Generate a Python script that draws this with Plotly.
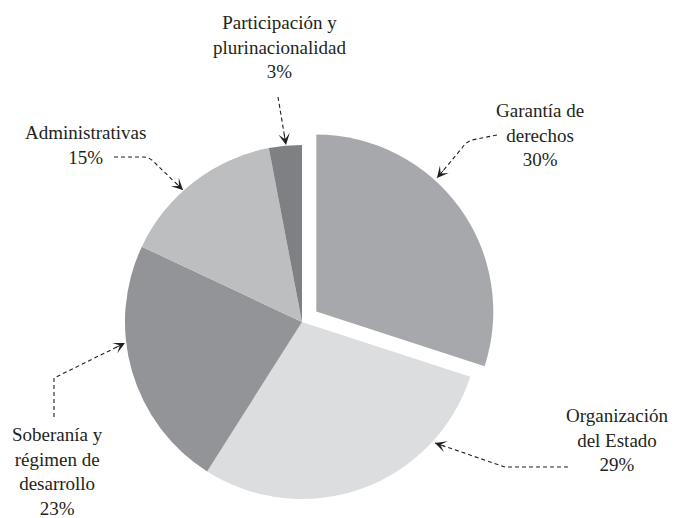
import plotly.graph_objects as go

# Share of content by thematic area
labels = ["Garantía de<br>derechos", "Organización<br>del Estado",
          "Soberanía y<br>régimen de<br>desarrollo", "Administrativas",
          "Participación y<br>plurinacionalidad"]
values = [30, 29, 23, 15, 3]
colors = ["#a7a8ab", "#dcdddf", "#939497", "#bdbec0", "#7f8084"]
pulls = [0.1, 0, 0, 0, 0]

W, H = 673, 518
FONT = "Liberation Serif, Times New Roman, serif"
INK = "#231f20"


def X(px):
    return px / W


def Y(py):
    return 1 - py / H


fig = go.Figure(go.Pie(
    labels=labels, values=values, sort=False, direction="clockwise",
    rotation=0, pull=pulls, textinfo="none", hoverinfo="label+percent",
    marker=dict(colors=colors, line=dict(width=0)),
    domain=dict(x=[0.1594, 0.7380], y=[0.0025, 0.7543]),
    showlegend=False,
))

# label placement (centre of text block) and leader geometry
label_pos = [(540, 135), (617, 440), (57, 471), (85, 145), (279, 47)]
leaders = [
    [("M", 497, 135), ("L", 472, 140), ("Q", 466, 142, 462, 148), ("L", 437, 178)],
    [("M", 568, 467), ("L", 505, 467), ("L", 435, 443)],
    [("M", 54, 417), ("L", 54, 378), ("L", 125, 343)],
    [("M", 114, 157), ("L", 143, 157), ("Q", 150, 157, 155, 163), ("L", 183, 190)],
    [("M", 278, 97), ("L", 286, 145)],
]


def path_str(cmds):
    out = []
    for c in cmds:
        op, pts = c[0], c[1:]
        coords = []
        for i in range(0, len(pts), 2):
            coords.append(f"{X(pts[i]):.5f},{Y(pts[i + 1]):.5f}")
        out.append(op + " " + " ".join(coords))
    return " ".join(out)


shapes = []
annotations = []
for lab, val, (lx, ly), cmds in zip(labels, values, label_pos, leaders):
    annotations.append(dict(
        x=X(lx), y=Y(ly), xref="paper", yref="paper",
        text=f"{lab}<br>{val}%", showarrow=False,
        xanchor="center", yanchor="middle", align="center",
        font=dict(family=FONT, size=19, color=INK),
    ))
    shapes.append(dict(
        type="path", xref="paper", yref="paper", path=path_str(cmds),
        line=dict(color=INK, width=1.1, dash="4px,3px"),
    ))
    # arrowhead at the end of the leader
    tip = cmds[-1][-2:]
    prev = cmds[-2][-2:]
    dx, dy = prev[0] - tip[0], prev[1] - tip[1]
    n = (dx * dx + dy * dy) ** 0.5
    annotations.append(dict(
        x=X(tip[0]), y=Y(tip[1]), xref="paper", yref="paper",
        ax=dx / n * 12, ay=dy / n * 12, text="", showarrow=True,
        arrowhead=3, arrowsize=1.9, arrowwidth=1, arrowcolor=INK, standoff=0,
    ))

fig.update_layout(
    width=W, height=H, margin=dict(l=0, r=0, t=0, b=0),
    paper_bgcolor="white", plot_bgcolor="white",
    shapes=shapes, annotations=annotations,
)

fig.write_html("out.html")
